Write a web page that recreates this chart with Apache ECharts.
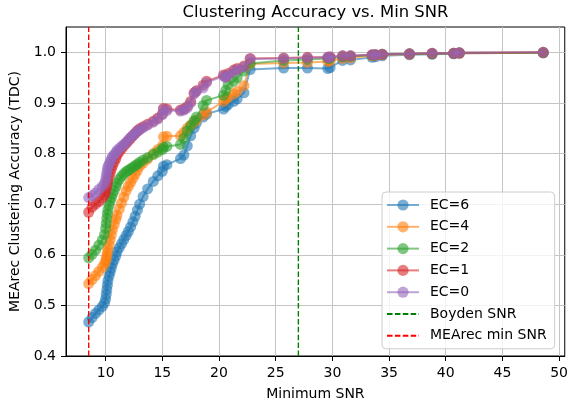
<!DOCTYPE html>
<html>
<head>
<meta charset="utf-8">
<script src="https://cdn.jsdelivr.net/npm/echarts@6/dist/echarts.min.js"></script>
<style>html,body{margin:0;padding:0;background:#fff}#c{width:571px;height:406px}</style>
</head>
<body>
<div id="c"></div>
<script>
// ---- data ----
const snrThresholds = [8.5, 8.8, 9.1, 9.4, 9.7, 9.9, 10.0, 10.05, 10.1, 10.15, 10.2, 10.3, 10.4, 10.5, 10.6, 10.75, 10.9, 11.0, 11.2, 11.4, 11.6, 11.8, 12.0, 12.2, 12.4, 12.6, 12.8, 13.0, 13.3, 13.7, 14.2, 14.6, 15.0, 15.1, 15.4, 16.6, 16.9, 17.2, 17.5, 17.8, 18.0, 18.6, 18.9, 20.4, 20.6, 20.8, 21.3, 21.6, 22.2, 22.75, 25.7, 27.8, 29.6, 29.8, 30.9, 31.6, 33.5, 33.8, 34.4, 36.8, 38.8, 40.7, 41.2, 48.6];
const accEC6 = [0.467, 0.476, 0.484, 0.491, 0.498, 0.505, 0.513, 0.522, 0.531, 0.540, 0.549, 0.558, 0.566, 0.574, 0.582, 0.590, 0.598, 0.606, 0.614, 0.622, 0.630, 0.638, 0.646, 0.655, 0.665, 0.676, 0.688, 0.700, 0.715, 0.730, 0.745, 0.756, 0.765, 0.775, 0.778, 0.790, 0.797, 0.815, 0.835, 0.850, 0.860, 0.872, 0.878, 0.888, 0.893, 0.897, 0.903, 0.908, 0.920, 0.966, 0.969, 0.969, 0.968, 0.970, 0.984, 0.985, 0.990, 0.991, 0.993, 0.995, 0.996, 0.997, 0.998, 0.999];
const accEC4 = [0.543, 0.551, 0.559, 0.567, 0.575, 0.582, 0.587, 0.592, 0.598, 0.604, 0.611, 0.620, 0.630, 0.640, 0.650, 0.660, 0.670, 0.678, 0.690, 0.702, 0.714, 0.726, 0.735, 0.743, 0.751, 0.759, 0.767, 0.775, 0.781, 0.789, 0.800, 0.808, 0.815, 0.833, 0.834, 0.835, 0.842, 0.850, 0.856, 0.862, 0.866, 0.876, 0.882, 0.903, 0.908, 0.911, 0.918, 0.923, 0.934, 0.977, 0.979, 0.980, 0.982, 0.983, 0.988, 0.989, 0.993, 0.994, 0.995, 0.996, 0.997, 0.998, 0.998, 0.999];
const accEC2 = [0.594, 0.601, 0.609, 0.619, 0.629, 0.640, 0.652, 0.662, 0.672, 0.681, 0.689, 0.698, 0.706, 0.713, 0.720, 0.727, 0.735, 0.742, 0.749, 0.755, 0.760, 0.764, 0.767, 0.770, 0.773, 0.776, 0.779, 0.783, 0.787, 0.792, 0.798, 0.803, 0.808, 0.812, 0.814, 0.818, 0.830, 0.845, 0.855, 0.865, 0.872, 0.895, 0.905, 0.915, 0.925, 0.936, 0.943, 0.950, 0.963, 0.978, 0.984, 0.986, 0.988, 0.988, 0.991, 0.992, 0.994, 0.995, 0.996, 0.997, 0.997, 0.998, 0.999, 0.999];
const accEC1 = [0.684, 0.694, 0.700, 0.705, 0.712, 0.718, 0.724, 0.730, 0.736, 0.742, 0.748, 0.755, 0.762, 0.769, 0.776, 0.783, 0.790, 0.797, 0.803, 0.809, 0.815, 0.820, 0.825, 0.830, 0.835, 0.840, 0.845, 0.849, 0.853, 0.858, 0.864, 0.870, 0.878, 0.889, 0.888, 0.886, 0.888, 0.893, 0.903, 0.920, 0.924, 0.935, 0.943, 0.955, 0.952, 0.958, 0.965, 0.968, 0.973, 0.988, 0.989, 0.990, 0.990, 0.991, 0.993, 0.993, 0.995, 0.995, 0.996, 0.997, 0.998, 0.998, 0.999, 1.000];
const accEC0 = [0.713, 0.717, 0.722, 0.729, 0.735, 0.741, 0.748, 0.755, 0.762, 0.768, 0.774, 0.779, 0.784, 0.789, 0.794, 0.798, 0.802, 0.806, 0.810, 0.814, 0.818, 0.822, 0.827, 0.832, 0.836, 0.840, 0.844, 0.847, 0.851, 0.856, 0.862, 0.868, 0.877, 0.887, 0.885, 0.884, 0.886, 0.890, 0.900, 0.918, 0.923, 0.930, 0.940, 0.953, 0.950, 0.955, 0.962, 0.966, 0.971, 0.987, 0.988, 0.989, 0.990, 0.990, 0.993, 0.993, 0.995, 0.995, 0.996, 0.997, 0.998, 0.998, 0.999, 1.000];
const seriesNames = ['EC=6', 'EC=4', 'EC=2', 'EC=1', 'EC=0'];
const boydenSNR = 27;
const mearecMinSNR = 8.5;
const xTicks = [10, 15, 20, 25, 30, 35, 40, 45, 50];
const yTicks = [0.4, 0.5, 0.6, 0.7, 0.8, 0.9, 1.0];
const xRange = [6.5, 50.5];
const yRange = [0.4, 1.05];

// ---- chart ----
const colors = ['#1f77b4', '#ff7f0e', '#2ca02c', '#d62728', '#9467bd'];
const accs = [accEC6, accEC4, accEC2, accEC1, accEC0];
const FONT = 'DejaVu Sans';
const chart = echarts.init(document.getElementById('c'), null, {renderer: 'canvas'});

const series = accs.map((arr, i) => ({
  name: seriesNames[i],
  type: 'line',
  data: snrThresholds.map((x, j) => [x, arr[j]]),
  symbol: 'circle',
  symbolSize: 11,
  showSymbol: true,
  animation: false,
  itemStyle: {color: colors[i], opacity: 0.6},
  lineStyle: {color: colors[i], width: 2, opacity: 0.6},
  emphasis: {disabled: true},
  z: 2 + i
}));

function vline(name, x, color) {
  return {
    name: name,
    type: 'line',
    data: [[x, yRange[0]], [x, yRange[1]]],
    symbol: 'none',
    animation: false,
    itemStyle: {color: color, opacity: 0},
    lineStyle: {color: color, width: 1.4, type: [5.5, 2.4]},
    emphasis: {disabled: true},
    z: 10
  };
}
series.push(vline('Boyden SNR', boydenSNR, '#008000'));
series.push(vline('MEArec min SNR', mearecMinSNR, '#ff0000'));

const option = {
  animation: false,
  backgroundColor: '#fff',
  textStyle: {fontFamily: FONT},
  title: {
    text: 'Clustering Accuracy vs. Min SNR',
    left: 315.5,
    top: 5,
    padding: 0,
    textAlign: 'center',
    textStyle: {fontFamily: FONT, fontSize: 16.4, fontWeight: 'normal', color: '#000'}
  },
  grid: {
    left: 66, right: 6, top: 27, bottom: 49,
    show: true, borderColor: '#000', borderWidth: 1, backgroundColor: 'transparent'
  },
  legend: {
    orient: 'vertical',
    left: 382,
    top: 192,
    padding: [6, 8, 6, 4],
    itemWidth: 32,
    itemHeight: 14,
    itemGap: 7.8,
    backgroundColor: 'rgba(255,255,255,0.8)',
    borderColor: '#cccccc',
    borderWidth: 1,
    borderRadius: 4,
    selectedMode: false,
    textStyle: {fontFamily: FONT, fontSize: 14, color: '#000', padding: [0, 0, 0, 6]},
    data: seriesNames.concat(['Boyden SNR', 'MEArec min SNR'])
  },
  xAxis: {
    type: 'value',
    min: xRange[0],
    max: xRange[1],
    name: 'Minimum SNR',
    nameLocation: 'middle',
    nameGap: 31,
    nameTextStyle: {fontFamily: FONT, fontSize: 14, color: '#000'},
    axisLine: {show: true, onZero: false, lineStyle: {color: '#000', width: 1}},
    axisTick: {show: true, length: 5, lineStyle: {color: '#000', width: 1}, customValues: xTicks},
    axisLabel: {fontFamily: FONT, fontSize: 14, color: '#000', margin: 10, customValues: xTicks,
      formatter: v => String(v)},
    splitLine: {show: true, lineStyle: {color: '#c4c4c4', width: 1}}
  },
  yAxis: {
    type: 'value',
    min: yRange[0],
    max: yRange[1],
    name: 'MEArec Clustering Accuracy (TDC)',
    nameLocation: 'middle',
    nameGap: 34,
    nameTextStyle: {fontFamily: FONT, fontSize: 14, color: '#000'},
    axisLine: {show: true, onZero: false, lineStyle: {color: '#000', width: 1}},
    axisTick: {show: true, length: 5, lineStyle: {color: '#000', width: 1}, customValues: yTicks},
    axisLabel: {fontFamily: FONT, fontSize: 14, color: '#000', margin: 10, customValues: yTicks,
      formatter: v => Number(v).toFixed(1)},
    splitLine: {show: true, lineStyle: {color: '#c4c4c4', width: 1}}
  },
  series: series
};
chart.setOption(option);
</script>
</body>
</html>
